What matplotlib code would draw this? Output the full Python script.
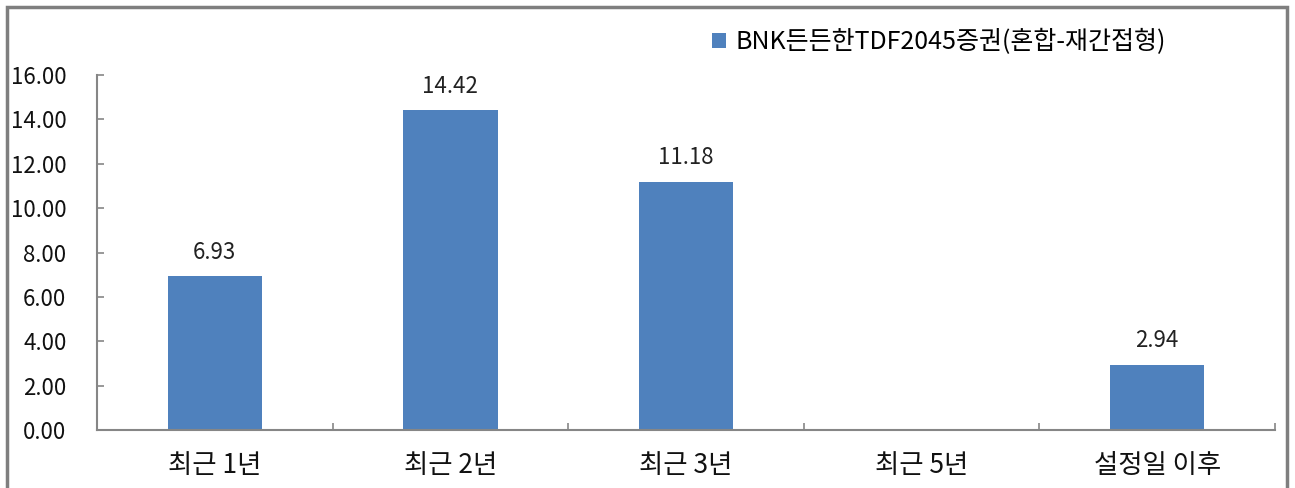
import matplotlib.pyplot as plt
from matplotlib.patches import Rectangle

plt.rcParams['font.family'] = ['Noto Sans CJK KR', 'DejaVu Sans']

categories = ['최근 1년', '최근 2년', '최근 3년', '최근 5년', '설정일 이후']
values = [6.93, 14.42, 11.18, None, 2.94]
series_name = 'BNK든든한TDF2045증권(혼합-재간접형)'
yticks = [0, 2, 4, 6, 8, 10, 12, 14, 16]

W, H = 1295, 488
fig = plt.figure(figsize=(W / 100, H / 100), dpi=100)
ax = fig.add_axes([97 / W, 1 - 430 / H, (1275 - 97) / W, (430 - 75) / H])

bar_color = '#4F81BD'
axis_color = '#868686'

xs = [i for i, v in enumerate(values) if v is not None]
hs = [v for v in values if v is not None]
ax.bar(xs, hs, width=0.4, color=bar_color, label=series_name)
for x, h in zip(xs, hs):
    ax.annotate(f'{h:.2f}', (x, h), xytext=(0, 9), textcoords='offset points',
                ha='center', va='bottom', fontsize=16, color='#222222')

ax.set_xlim(-0.5, len(categories) - 0.5)
ax.set_ylim(0, 16)
ax.set_yticks(yticks)
ax.set_yticklabels([f'{t:.2f}' for t in yticks], fontsize=16, color='#111111')
ax.set_xticks(range(len(categories)))
ax.set_xticklabels(categories, fontsize=19, color='#111111')
ax.set_xticks([i + 0.5 for i in range(-1, len(categories))], minor=True)
ax.tick_params(axis='x', which='major', length=0, pad=16)
ax.tick_params(axis='x', which='minor', direction='in', length=5, color=axis_color, width=1.2)
ax.tick_params(axis='y', direction='in', length=5, color=axis_color, width=1.2, pad=22)

for s in ['top', 'right']:
    ax.spines[s].set_visible(False)
for s in ['left', 'bottom']:
    ax.spines[s].set_color(axis_color)
    ax.spines[s].set_linewidth(1.5)

ax.legend(loc='center left', bbox_to_anchor=(712 / W, 1 - 42 / H), bbox_transform=fig.transFigure,
          frameon=False, fontsize=18, handlelength=0.55, handleheight=0.55, handletextpad=0.4,
          borderpad=0, borderaxespad=0)

fig.patches.append(Rectangle((7 / W, -0.05), (1287 - 7) / W, 1 - 7 / H + 0.05,
                             transform=fig.transFigure, fill=False,
                             edgecolor='#7f7f7f', linewidth=2.5))

fig.savefig('out.png', dpi=100, facecolor='white')
